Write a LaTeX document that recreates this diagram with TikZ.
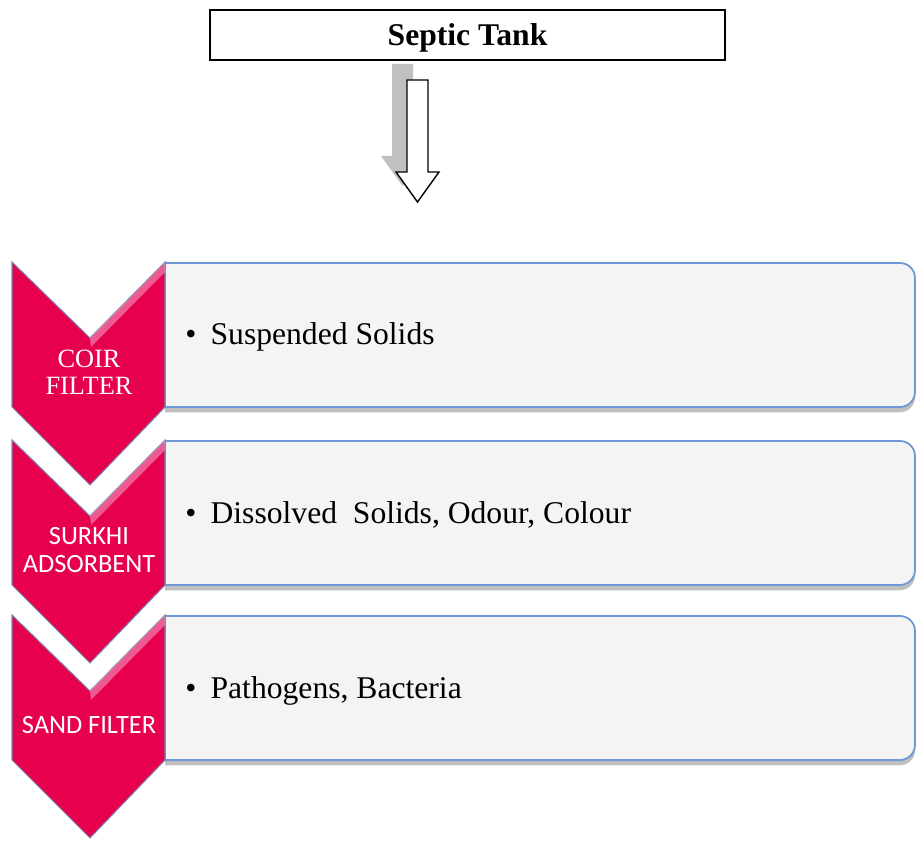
\documentclass[tikz,border=0pt]{standalone}
\usepackage{fontspec}
\setmainfont{Liberation Serif}
\newfontfamily\calibri{Carlito}
\usetikzlibrary{shadows}
\definecolor{chevpink}{HTML}{E6004E}
\definecolor{chevlight}{HTML}{F5A3CB}
\definecolor{chevedge}{HTML}{7C86B0}
\definecolor{boxfill}{HTML}{F4F4F4}
\definecolor{boxline}{HTML}{6C98D4}
\definecolor{arrowshade}{HTML}{C0C0C0}

\tikzset{
  tankbox/.style={draw=black, line width=1.2pt, minimum width=10.3cm, minimum height=1cm,
    inner sep=0pt, text depth=0pt, font=\bfseries\fontsize{18}{20}\selectfont},
  chevron/.style={fill=chevpink, draw=chevedge, line width=0.6pt, line join=miter},
  stagebox/.style={fill=boxfill, draw=boxline, line width=1pt,
    drop shadow={shadow xshift=0pt, shadow yshift=-3pt, fill=black, opacity=0.25}},
  chevlabel/.style={text=white, font=#1\fontsize{15}{15.5}\selectfont, align=center, inner sep=0pt},
  itemtext/.style={anchor=base west, font=\rmfamily\fontsize{18}{20}\selectfont, inner sep=0pt}
}

\begin{document}
\begin{tikzpicture}[x=0.02cm, y=-0.02cm]
\useasboundingbox (0,0) rectangle (917,841);

% Source
\node[tankbox] (tank) at (467.5,35) {Septic Tank};

% Hollow down arrow with grey shadow
\fill[arrowshade, shift={(-15,-16)}] (407,80) -- (428,80) -- (428,172) -- (439,172)
  -- (417.5,202) -- (396,172) -- (407,172) -- cycle;
\draw[fill=white, line width=0.8pt, line join=miter] (407,80) -- (428,80) -- (428,172) -- (439,172)
  -- (417.5,202) -- (396,172) -- (407,172) -- cycle;

% Treatment stages
\foreach \T/\i/\fnt/\lab/\txt in {
  262/1/\rmfamily/{COIR\\FILTER}/{Suspended Solids},
  440/2/\calibri/{SURKHI\\ADSORBENT}/{Dissolved\hspace{0.5em}Solids, Odour, Colour},
  615/3/\calibri/{SAND FILTER}/{Pathogens, Bacteria}} {
  % text panel
  \path[stagebox] (165,\T+1) -- (900,\T+1) arc[start angle=90, end angle=0, radius=0.3cm]
    -- (915,\T+130) arc[start angle=0, end angle=-90, radius=0.3cm] -- (165,\T+145) -- cycle;
  % chevron
  \filldraw[chevron] (12,\T) -- (90,\T+76) -- (165,\T) -- (165,\T+145) -- (90,\T+223)
    -- (12,\T+145) -- cycle;
  \fill[chevlight, opacity=0.55] (90,\T+76) -- (165,\T) -- (165,\T+10) -- (91,\T+85) -- cycle;
  \node[chevlabel=\fnt] (lab\i) at (89,\T+110) {\lab};
  \node[itemtext] (item\i) at (185,\T+83) {\textbullet\hspace{0.45em}\txt};
}

\end{tikzpicture}
\end{document}
